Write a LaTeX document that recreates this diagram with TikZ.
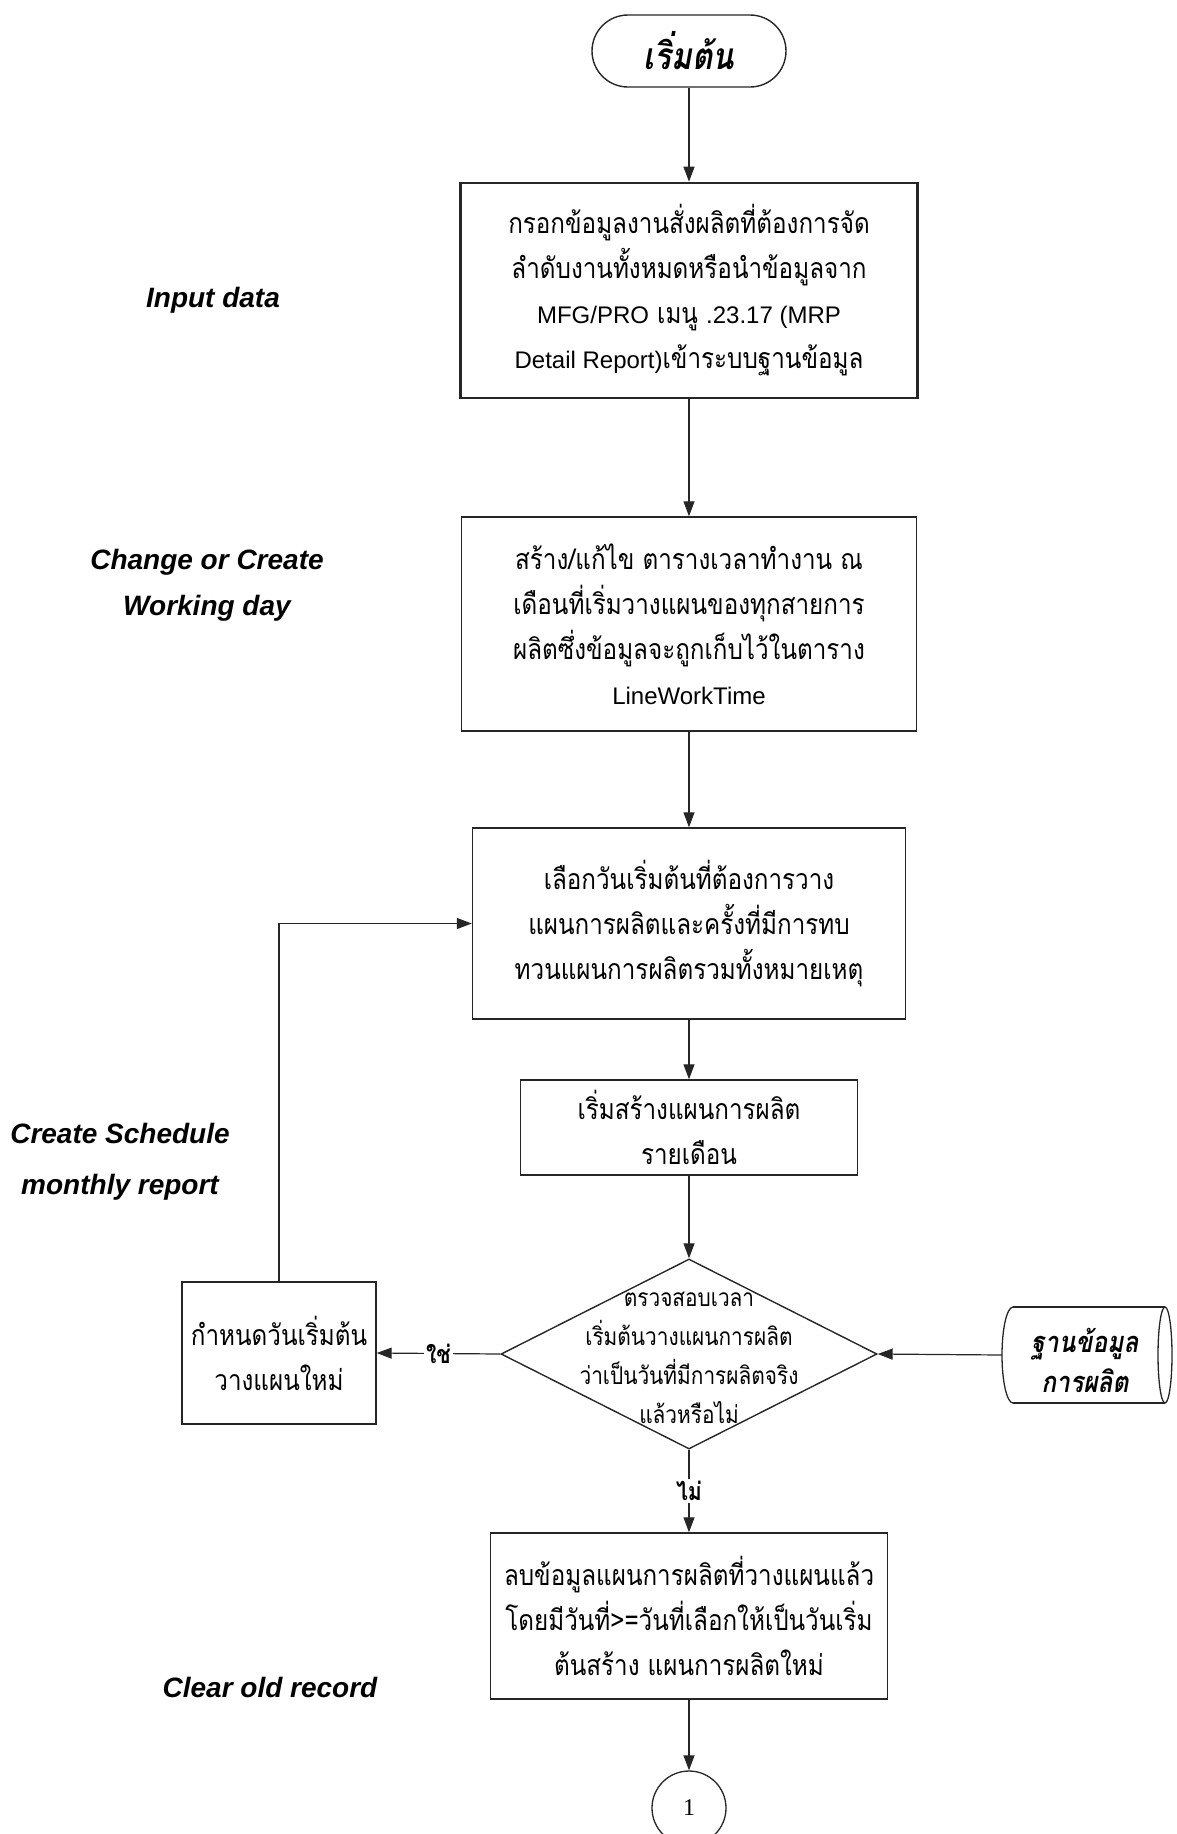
\documentclass[tikz,border=0pt]{standalone}
\usepackage{fontspec}
\setmainfont{Liberation Sans}
\newfontfamily\thaifont[Script=Thai, FakeStretch=0.85]{Loma}
\newfontfamily\latinfont{Liberation Sans}
\newfontfamily\numfont{Liberation Serif}
\usetikzlibrary{arrows.meta,shapes.geometric}
\newcommand{\lat}[1]{{\latinfont\fontsize{24}{45}\selectfont #1}}

\tikzset{
  ink/.style={draw=black!85, line width=1.3pt},
  procbox/.style={draw=black!85, line width=1.4pt, rectangle, inner sep=0pt, align=center,
    font=\thaifont\fontsize{28.5}{45}\selectfont},
  terminal/.style={draw=black!85, line width=1.4pt, rectangle, rounded corners=36pt,
    minimum width=194pt, minimum height=72pt, inner sep=0pt,
    font=\thaifont\bfseries\itshape\fontsize{37}{37}\selectfont},
  decision/.style={draw=black!85, line width=1.4pt, diamond, inner sep=0pt,
    minimum width=376pt, minimum height=190pt},
  dectext/.style={align=center, inner sep=0pt, font=\thaifont\fontsize{24.5}{39}\selectfont},
  dbtext/.style={align=center, inner sep=0pt, font=\thaifont\bfseries\itshape\fontsize{29}{40}\selectfont},
  connector/.style={draw=black!85, line width=1.3pt, circle, minimum size=74pt, inner sep=0pt,
    font=\numfont\fontsize{24}{24}\selectfont},
  flow/.style={draw=black!85, line width=1.2pt, -{Triangle[length=15pt,width=11pt]}},
  answer/.style={font=\thaifont\bfseries\fontsize{25}{25}\selectfont, fill=white, inner sep=2pt},
  sidelabel/.style={font=\latinfont\bfseries\itshape\fontsize{28}{46}\selectfont, align=center, inner sep=0pt},
}

\begin{document}
\begin{tikzpicture}[x=1pt,y=-1pt]
\useasboundingbox (0,0) rectangle (1177,1834);
\begin{scope}
\clip (0,0) rectangle (1177,1834);

% main column of steps
\node[terminal] (start) at (689,51) {เริ่มต้น};

\node[procbox, line width=2.6pt, minimum width=457pt, minimum height=215pt] (input) at (689,290.5)
  {กรอกข้อมูลงานสั่งผลิตที่ต้องการจัด\\ลำดับงานทั้งหมดหรือนำข้อมูลจาก\\\lat{MFG/PRO} เมนู \lat{.23.17 (MRP}\\\lat{Detail Report)}เข้าระบบฐานข้อมูล};

\node[procbox, minimum width=455pt, minimum height=214pt] (worktime) at (689,624)
  {สร้าง/แก้ไข ตารางเวลาทำงาน ณ\\เดือนที่เริ่มวางแผนของทุกสายการ\\ผลิตซึ่งข้อมูลจะถูกเก็บไว้ในตาราง\\\lat{LineWorkTime}};

\node[procbox, minimum width=433pt, minimum height=191pt] (pickdate) at (689,923.5)
  {เลือกวันเริ่มต้นที่ต้องการวาง\\แผนการผลิตและครั้งที่มีการทบ\\ทวนแผนการผลิตรวมทั้งหมายเหตุ};

\node[procbox, minimum width=337pt, minimum height=95pt] (monthly) at (689,1127.5)
  {เริ่มสร้างแผนการผลิต\\รายเดือน};

\node[decision] (dec) at (689,1354) {};
\node[dectext] (dectxt) at (689,1358)
  {ตรวจสอบเวลา\\เริ่มต้นวางแผนการผลิต\\ว่าเป็นวันที่มีการผลิตจริง\\แล้วหรือไม่};

\node[procbox, minimum width=194pt, minimum height=142pt] (newdate) at (279,1353)
  {กำหนดวันเริ่มต้น\\วางแผนใหม่};

\node[procbox, minimum width=397pt, minimum height=166pt] (clear) at (689,1616)
  {ลบข้อมูลแผนการผลิตที่วางแผนแล้ว\\โดยมีวันที่>=วันที่เลือกให้เป็นวันเริ่ม\\ต้นสร้าง แผนการผลิตใหม่};

\node[connector] (conn) at (689,1808) {1};

% stored production data
\draw[ink] (1013,1307) -- (1165,1307) (1013,1403) -- (1165,1403);
\draw[ink] (1165,1355) ellipse [x radius=7, y radius=48];
\draw[ink] (1013,1307) arc[start angle=270, end angle=90, x radius=11, y radius=48];
\coordinate (dbin) at (1002,1355);
\node[dbtext] (db) at (1085,1360) {ฐานข้อมูล\\การผลิต};

% connectors
\draw[flow] (start.south) -- (input.north);
\draw[flow] (input.south) -- (worktime.north);
\draw[flow] (worktime.south) -- (pickdate.north);
\draw[flow] (pickdate.south) -- (monthly.north);
\draw[flow] (monthly.south) -- (dec.north);
\draw[flow] (dec.west) -- node[answer] {ใช่} (newdate.east);
\draw[flow] (newdate.north) |- (pickdate.west);
\draw[flow] (dbin) -- (dec.east);
\draw[flow] (dec.south) -- node[answer] {ไม่} (clear.north);
\draw[flow] (clear.south) -- (conn.north);

% phase labels
\node[sidelabel] (lblinput) at (213,300) {Input data};
\node[sidelabel] (lblchange) at (207,585) {Change or Create\\Working day};
\node[sidelabel, font=\latinfont\bfseries\itshape\fontsize{28}{51}\selectfont] (lblsched) at (120,1162) {Create Schedule\\monthly report};
\node[sidelabel] (lblclear) at (270,1687) {Clear old record};
\end{scope}
\end{tikzpicture}
\end{document}
